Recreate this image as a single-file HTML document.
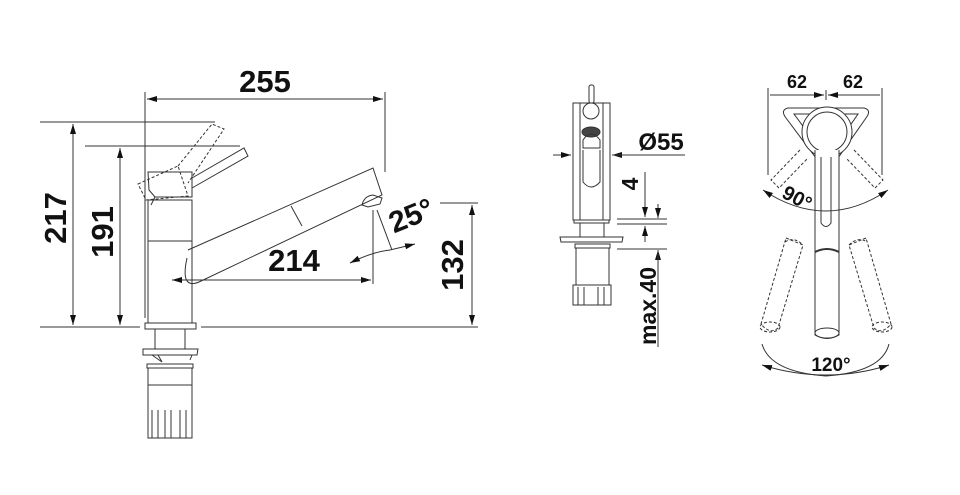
<!DOCTYPE html>
<html><head><meta charset="utf-8"><style>
html,body{margin:0;padding:0;background:#fff;}
svg{display:block;}
text{font-family:"Liberation Sans",sans-serif;font-weight:bold;fill:#111;}
</style></head><body>
<svg width="960" height="495" viewBox="0 0 960 495" xmlns="http://www.w3.org/2000/svg">
<defs>
<marker id="a" viewBox="0 0 10 6" refX="10" refY="3" markerWidth="10" markerHeight="6" orient="auto-start-reverse" markerUnits="userSpaceOnUse"><path d="M0,0L10,3L0,6Z" fill="#111"/></marker>
</defs>
<g stroke="#333" stroke-width="1" fill="none">
<line x1="145" y1="92" x2="145" y2="318"/>
<line x1="385" y1="92" x2="385" y2="172"/>
<line x1="147" y1="99" x2="383" y2="99" marker-start="url(#a)" marker-end="url(#a)"/>
<line x1="40" y1="122" x2="215" y2="122"/>
<line x1="73" y1="124" x2="73" y2="325" marker-start="url(#a)" marker-end="url(#a)"/>
<line x1="85" y1="146" x2="240" y2="146"/>
<line x1="120" y1="148" x2="120" y2="325" marker-start="url(#a)" marker-end="url(#a)"/>
<line x1="40" y1="327" x2="140" y2="327"/>
<line x1="201" y1="327" x2="478" y2="327"/>
<line x1="440" y1="203" x2="478" y2="203"/>
<line x1="472" y1="205" x2="472" y2="325" marker-start="url(#a)" marker-end="url(#a)"/>
<line x1="172" y1="280" x2="371" y2="280" marker-start="url(#a)" marker-end="url(#a)"/>
<line x1="373" y1="210" x2="373" y2="284"/>
<line x1="377" y1="210" x2="392" y2="250"/>
<path d="M350,263 Q372,252 390,250" marker-start="url(#a)"/>
<line x1="390" y1="250" x2="415" y2="244" marker-end="url(#a)"/>
<rect x="148" y="200" width="44" height="123"/>
<line x1="148" y1="241" x2="192" y2="241"/>
<path d="M148,172 L192,172 L192,197 L155,197 L149,190 Z"/>
<path d="M155,197 L151,205"/>
<path d="M192,178 L244,148 L248,156 L192,188"/>
<g stroke-dasharray="3,2"><path d="M138,184 L178,166 L188,196 L146,200 Z"/><path d="M178,166 L212,124 L224,129 L188,183"/></g>
<path d="M188,250 L373,168 L382,195 L199,282 Q180,290 187,258"/>
<line x1="291" y1="206" x2="302" y2="226"/>
<path d="M362,205 Q364,196 373,195 L382,198 L380,204 L368,207 Z"/>
<rect x="145" y="323" width="51" height="6"/>
<line x1="155" y1="329" x2="155" y2="349"/><line x1="185" y1="329" x2="185" y2="349"/>
<path d="M143,349 L198,349 L197,355 L143,355 Z"/>
<path d="M152,355 L162,362 L158,355"/><path d="M192,355 L190,360"/>
<rect x="147" y="364" width="46" height="4"/>
<rect x="148" y="368" width="44" height="17"/>
<rect x="148" y="385" width="44" height="53"/>
<path d="M152,410 V438 M158,410 V438 M165,410 V438 M171,410 V438 M180,410 V438 M186,410 V438"/>
<rect x="573" y="103" width="37" height="117"/>
<line x1="580" y1="103" x2="580" y2="220"/><line x1="603" y1="103" x2="603" y2="220"/>
<circle cx="591" cy="111" r="8"/>
<rect x="589" y="85" width="5" height="18" rx="2"/>
<ellipse cx="591" cy="132" rx="9" ry="5" fill="#444"/>
<path d="M583,140 Q591,128 600,140 L600,148 L583,148 Z"/>
<path d="M583,150 L583,182 Q591,192 600,182 L600,150"/>
<line x1="553" y1="155" x2="571" y2="155" marker-end="url(#a)"/>
<line x1="612" y1="155" x2="630" y2="155" marker-start="url(#a)"/>
<line x1="612" y1="155" x2="685" y2="155"/>
<rect x="574" y="220" width="35" height="3"/>
<line x1="580" y1="223" x2="580" y2="237"/><line x1="604" y1="223" x2="604" y2="237"/>
<path d="M560,237 L623,237 L622,242 L561,242 Z"/>
<rect x="575" y="244" width="35" height="4"/>
<rect x="576" y="248" width="33" height="37"/>
<rect x="573" y="285" width="38" height="20"/>
<path d="M578,287 V305 M584,287 V305 M598,287 V305 M604,287 V305"/>
<line x1="617" y1="219" x2="667" y2="219"/><line x1="617" y1="224" x2="667" y2="224"/>
<line x1="617" y1="249" x2="667" y2="249"/>
<line x1="645" y1="172" x2="645" y2="217" marker-end="url(#a)"/>
<line x1="645" y1="242" x2="645" y2="226" marker-end="url(#a)"/>
<line x1="658" y1="204" x2="658" y2="218" marker-end="url(#a)"/>
<line x1="658" y1="264" x2="658" y2="250" marker-end="url(#a)"/>
<line x1="658" y1="250" x2="658" y2="347"/>
<line x1="768" y1="88" x2="768" y2="175"/><line x1="882" y1="88" x2="882" y2="175"/>
<line x1="826" y1="90" x2="826" y2="100"/>
<line x1="770" y1="95" x2="824" y2="95" marker-end="url(#a)"/>
<line x1="828" y1="95" x2="880" y2="95" marker-start="url(#a)"/>
<path d="M788,108 L864,108 Q872,110 866,118 L838,158 Q827,170 816,158 L786,118 Q780,110 788,108 Z"/>
<path d="M794,114 L858,114 L832,152 L822,152 Z"/>
<circle cx="827" cy="132" r="25" fill="#fff"/>
<circle cx="827" cy="132" r="20"/>
<path d="M815,150 L815,335 Q827,342 839,335 L839,150" fill="#fff"/>
<ellipse cx="827" cy="333" rx="12" ry="5"/>
<path d="M821,157 L821,223 Q826,230 831,223 L831,157"/>
<path d="M815,252 Q827,246 839,252" stroke-width="2"/>
<g stroke-dasharray="3,2">
<path d="M800,150 L771,180 L779,188 L808,158"/><path d="M854,150 L883,180 L875,188 L846,158"/>
<path d="M786,238 L803,245 L778,328 Q770,335 761,324 Z"/>
<path d="M866,238 L849,245 L874,328 Q882,335 891,324 Z"/>
<ellipse cx="770" cy="327" rx="10" ry="5"/><ellipse cx="882" cy="327" rx="10" ry="5"/>
<path d="M785,242 Q794,236 803,245"/><path d="M849,245 Q858,236 867,242"/>
</g>
<path d="M763,190 Q826,232 888,190" marker-start="url(#a)" marker-end="url(#a)"/>
<path d="M762,344 Q770,372 826,376 Q882,372 889,344"/>
<path d="M762,365 Q826,385 889,365" marker-start="url(#a)" marker-end="url(#a)"/>
</g>
<text x="265" y="92" font-size="31" text-anchor="middle">255</text>
<text transform="translate(66,218) rotate(-90)" font-size="31" text-anchor="middle">217</text>
<text transform="translate(113,232) rotate(-90)" font-size="31" text-anchor="middle">191</text>
<text x="294" y="271" font-size="31" text-anchor="middle">214</text>
<text transform="translate(415,225) rotate(-22)" font-size="30" text-anchor="middle">25°</text>
<text transform="translate(463,265) rotate(-90)" font-size="31" text-anchor="middle">132</text>
<text x="661" y="150" font-size="24" text-anchor="middle">Ø55</text>
<text transform="translate(638,184) rotate(-90)" font-size="23" text-anchor="middle">4</text>
<text transform="translate(656,306) rotate(-90)" font-size="23" text-anchor="middle">max.40</text>
<text x="797" y="88" font-size="18" text-anchor="middle" font-weight="normal">62</text>
<text x="853" y="88" font-size="18" text-anchor="middle" font-weight="normal">62</text>
<text transform="translate(794,204) rotate(28)" font-size="20" text-anchor="middle" font-weight="normal">90°</text>
<text x="831" y="371" font-size="19" text-anchor="middle" font-weight="normal">120°</text>
</svg>
</body></html>
